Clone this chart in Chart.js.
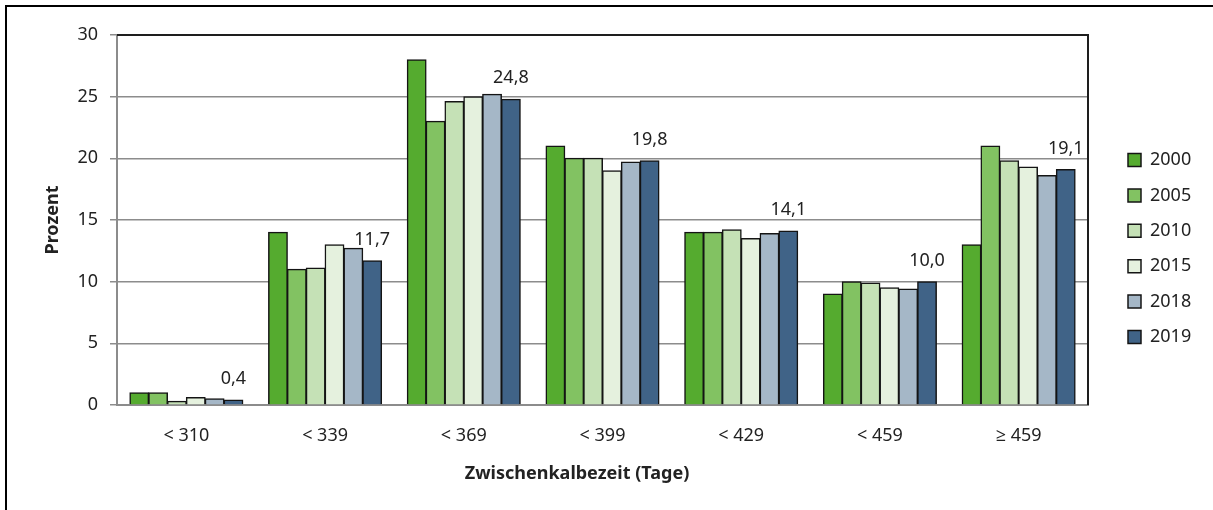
<!DOCTYPE html>
<html><head><meta charset="utf-8">
<script src="https://cdn.jsdelivr.net/npm/chart.js@4.4.1/dist/chart.umd.min.js"></script>
<style>html,body{margin:0;padding:0;background:#fff;} #wrap{position:relative;width:1213px;height:510px;}</style>
</head><body><div id="wrap"><canvas id="c" width="1213" height="510"></canvas></div>
<script>
const categories = ['< 310', '< 339', '< 369', '< 399', '< 429', '< 459', '≥ 459'];
const years = ['2000', '2005', '2010', '2015', '2018', '2019'];
const v2000 = [1.0, 14.0, 28.0, 21.0, 14.0, 9.0, 13.0];
const v2005 = [1.0, 11.0, 23.0, 20.0, 14.0, 10.0, 21.0];
const v2010 = [0.3, 11.1, 24.6, 20.0, 14.2, 9.9, 19.8];
const v2015 = [0.6, 13.0, 25.0, 19.0, 13.5, 9.5, 19.3];
const v2018 = [0.5, 12.7, 25.2, 19.7, 13.9, 9.4, 18.6];
const v2019 = [0.4, 11.7, 24.8, 19.8, 14.1, 10.0, 19.1];
const yTicks = [0, 5, 10, 15, 20, 25, 30];
const labeledSeries = '2019';
const xTitle = 'Zwischenkalbezeit (Tage)';
const yTitle = 'Prozent';

const seriesValues = [v2000, v2005, v2010, v2015, v2018, v2019];
const colors = ['#55AB2F', '#82C262', '#C5E1B6', '#E5F1DE', '#A5B7C7', '#406387'];
const FONT = '"Noto Sans", "Open Sans", sans-serif';
const TXT = '#222222';
const LEG_PAD = 17.4;

const frame = {
  id: 'frame',
  afterInit(chart) {
    const lg = chart.legend;
    const orig = lg.fit.bind(lg);
    lg.fit = function () { orig(); this.width = 125; };
  },
  afterLayout(chart) {
    const lg = chart.legend;
    const h = lg.bottom - lg.top;
    lg.left = 1128 - LEG_PAD; lg.right = lg.left + lg.width;
    lg.top = 160 - 9 - LEG_PAD; lg.bottom = lg.top + h;
  },
  beforeDraw(chart) {
    const ctx = chart.ctx;
    ctx.save();
    ctx.fillStyle = '#fff';
    ctx.fillRect(0, 0, chart.width, chart.height);
    ctx.strokeStyle = '#000';
    ctx.lineWidth = 2;
    ctx.beginPath();
    ctx.moveTo(6, chart.height);
    ctx.lineTo(6, 6);
    ctx.lineTo(chart.width, 6);
    ctx.stroke();
    ctx.restore();
  },
  afterDraw(chart) {
    const a = chart.chartArea, ctx = chart.ctx;
    ctx.save();
    ctx.strokeStyle = '#1e1e1e';
    ctx.lineWidth = 2;
    ctx.beginPath();
    ctx.moveTo(a.left, a.top);
    ctx.lineTo(a.right, a.top);
    ctx.lineTo(a.right, a.bottom);
    ctx.stroke();
    // x axis title
    ctx.fillStyle = TXT;
    ctx.font = 'bold 18px ' + FONT;
    ctx.textAlign = 'center';
    ctx.textBaseline = 'middle';
    ctx.fillText(xTitle, 577, 474);
    // data labels
    const di = years.indexOf(labeledSeries);
    const meta = chart.getDatasetMeta(di);
    ctx.font = '18px ' + FONT;
    ctx.textBaseline = 'bottom';
    meta.data.forEach((bar, i) => {
      const v = chart.data.datasets[di].data[i];
      ctx.fillText(v.toFixed(1).replace('.', ','), bar.x, bar.y - 12);
    });
    ctx.restore();
  }
};

new Chart(document.getElementById('c'), {
  type: 'bar',
  data: {
    labels: categories,
    datasets: years.map((y, i) => ({
      label: y,
      data: seriesValues[i],
      backgroundColor: colors[i],
      borderColor: '#141414',
      borderWidth: 1.5,
      borderSkipped: 'bottom',
      inflateAmount: 0.5,
      categoryPercentage: 0.815,
      barPercentage: 1.0
    }))
  },
  options: {
    responsive: false,
    animation: false,
    devicePixelRatio: 1,
    layout: { padding: { left: 0, top: 35, right: 0, bottom: 0 } },
    plugins: {
      legend: {
        position: 'right',
        align: 'start',
        labels: {
          boxWidth: 13, boxHeight: 13, padding: LEG_PAD,
          color: TXT, font: { family: FONT, size: 18 }
        }
      },
      tooltip: { enabled: false }
    },
    scales: {
      x: {
        grid: { display: false },
        border: { display: true, color: '#8c8c8c', width: 2 },
        ticks: { color: TXT, padding: 12, font: { family: FONT, size: 18 } },
        afterFit(s) { s.height = 105; }
      },
      y: {
        min: 0, max: 30,
        afterBuildTicks(s) { s.ticks = yTicks.map(v => ({ value: v })); },
        grid: { color: '#8c8c8c', lineWidth: 1.5, drawTicks: true, tickLength: 7, tickColor: '#8c8c8c' },
        border: { display: true, color: '#8c8c8c', width: 2 },
        ticks: { color: TXT, padding: 12, font: { family: FONT, size: 18 } },
        title: { display: true, text: yTitle, color: TXT,
                 font: { family: FONT, size: 18, weight: 'bold' }, padding: { top: 42, bottom: 0 } },
        afterFit(s) { s.width = 117; }
      }
    }
  },
  plugins: [frame]
});
</script>
</body></html>
